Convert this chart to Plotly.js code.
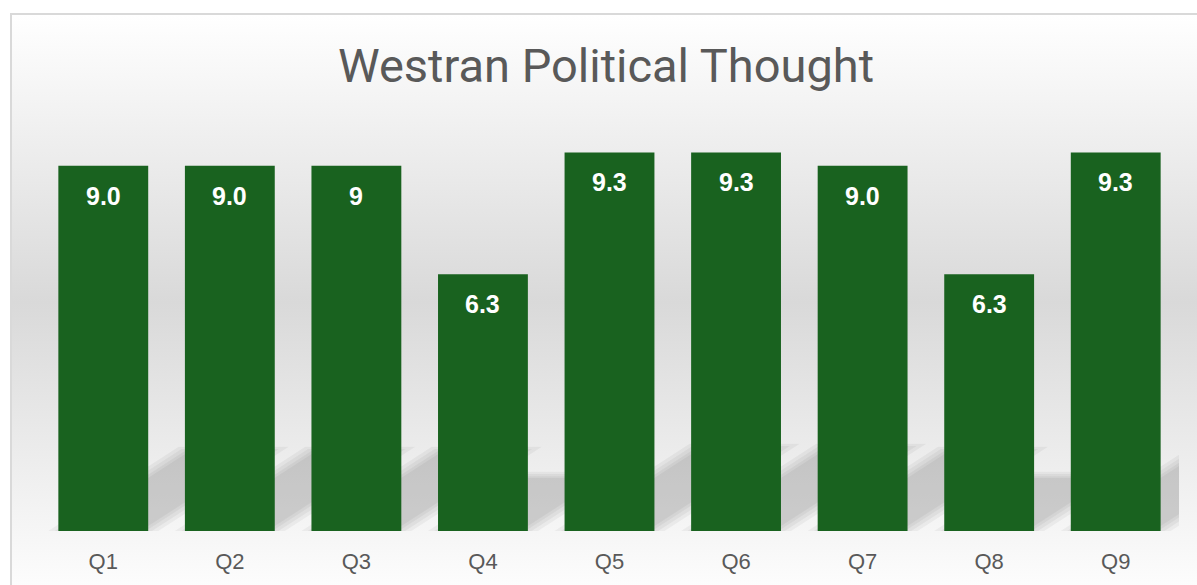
<!DOCTYPE html>
<html>
<head>
<meta charset="utf-8">
<script src="https://cdn.plot.ly/plotly-3.0.1.min.js"></script>
<style>
  html, body { margin: 0; padding: 0; width: 1197px; height: 585px; overflow: hidden; background: #ffffff; }
  #bg {
    position: absolute; left: 10px; top: 13px; width: 1200px; height: 574px;
    border-left: 2px solid #d9d9d9; border-top: 2px solid #d9d9d9;
    background: linear-gradient(to bottom, #ffffff 0%, #d9d9d9 50%, #fdfdfd 100%);
  }
  #chart { position: absolute; left: 0; top: 0; width: 1197px; height: 585px; }
</style>
</head>
<body>
<div id="bg"></div>
<div id="chart"></div>
<script>
// ---- data ----
const categories = ["Q1", "Q2", "Q3", "Q4", "Q5", "Q6", "Q7", "Q8", "Q9"];
const values = [9.0, 9.0, 9.0, 6.33, 9.33, 9.33, 9.0, 6.33, 9.33];
const labels = ["9.0", "9.0", "9", "6.3", "9.3", "9.3", "9.0", "6.3", "9.3"];
const chartTitle = "Westran Political Thought";

const xIdx = categories.map((c, i) => i);
const barWidth = 0.71;

// soft perspective shadows behind each bar (skewed up-right), layered to fake a blur
const shapes = [];
const blurSteps = [0.07, 0.045, 0.02, 0.0];
values.forEach((v, i) => {
  const h = 0.23 * v;        // shadow height in data units
  const dx = 0.1143 * v;     // skew in category units
  const x0 = i - barWidth / 2, x1 = i + barWidth / 2;
  blurSteps.forEach(e => {
    const hh = h + e * 2.2 - 0.15;
    const shrink = 0.06 - e;
    shapes.push({
      type: "path", xref: "x", yref: "y", layer: "below",
      path: `M ${x0 - e + shrink} 0 L ${x1 + e - shrink} 0 L ${x1 + dx * hh / h + e - shrink} ${hh} L ${x0 + dx * hh / h - e + shrink} ${hh} Z`,
      fillcolor: "rgba(0,0,0,0.045)", line: { width: 0 }
    });
  });
});

const annotations = values.map((v, i) => ({
  x: i, y: v, xref: "x", yref: "y",
  text: labels[i], showarrow: false,
  yanchor: "middle", yshift: -30,
  font: { family: "Liberation Sans, Arial, sans-serif", size: 25, color: "#ffffff", weight: "bold" }
}));

const trace = {
  type: "bar",
  x: xIdx,
  y: values,
  width: barWidth,
  marker: { color: "#19621f", line: { width: 0 } },
  hoverinfo: "skip"
};

const layout = {
  width: 1197, height: 585,
  margin: { l: 40, r: 18, t: 110, b: 54 },
  paper_bgcolor: "rgba(0,0,0,0)",
  plot_bgcolor: "rgba(0,0,0,0)",
  showlegend: false,
  title: {
    text: chartTitle,
    x: 606 / 1197, xanchor: "center", xref: "container",
    y: 1 - 49 / 585, yanchor: "top", yref: "container",
    font: { family: "Roboto, sans-serif", size: 47, color: "#595959" }
  },
  xaxis: {
    range: [-0.5, 8.5],
    tickmode: "array", tickvals: xIdx, ticktext: categories,
    showgrid: false, zeroline: false, showline: false,
    ticks: "outside", ticklen: 11, tickcolor: "rgba(0,0,0,0)",
    tickfont: { family: "Liberation Sans, Arial, sans-serif", size: 22, color: "#595959" },
    fixedrange: true
  },
  yaxis: {
    range: [0, 10.375],
    visible: false, showgrid: false, zeroline: false, fixedrange: true
  },
  shapes: shapes,
  annotations: annotations
};

Plotly.newPlot("chart", [trace], layout, { displayModeBar: false, staticPlot: true });
</script>
</body>
</html>
